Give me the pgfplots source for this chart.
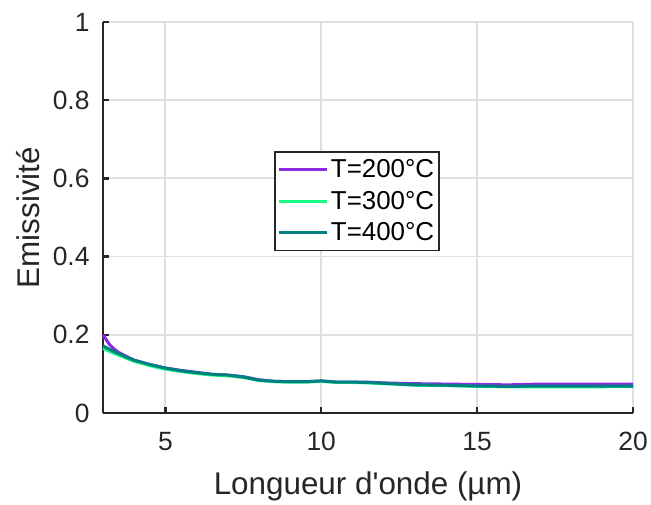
\documentclass[border=0pt]{standalone}
\usepackage{fontspec}
\setmainfont{Liberation Sans}[Ligatures=TeXOff]
\usepackage{pgfplots}
\pgfplotsset{compat=1.18}

\definecolor{c200}{RGB}{138,43,226}
\definecolor{c300}{RGB}{20,250,130}
\definecolor{c400}{RGB}{0,128,128}
\definecolor{axgray}{RGB}{38,38,38}

\begin{document}
\begin{tikzpicture}
\begin{axis}[
    scale only axis,
    width=530bp, height=391bp,
    xmin=3, xmax=20, ymin=0, ymax=1,
    xtick={5,10,15,20},
    ytick={0,0.2,0.4,0.6,0.8,1},
    axis x line*=bottom, axis y line*=left,
    axis line style={axgray, line width=2.4bp, -},
    tick style={axgray, line width=2.4bp},
    tick align=inside,
    major tick length=6bp,
    grid=major,
    major grid style={gray!25, line width=1.8bp},
    /pgf/number format/assume math mode=true,
    ticklabel style={font=\fontsize{26.5}{30}\selectfont, text=axgray},
    xticklabel style={yshift=-16bp},
    yticklabel style={xshift=-10bp},
    xlabel={Longueur d'onde (µm)},
    ylabel={Emissivité},
    label style={font=\fontsize{31.5}{36}\selectfont, text=axgray},
    xlabel style={yshift=-14bp},
    ylabel style={yshift=6bp},
    legend style={at={(axis cs:11.15,0.542)}, anchor=center,
        draw=axgray, line width=1.6bp, font=\fontsize{26}{30}\selectfont,
        inner xsep=3bp, inner ysep=6bp, row sep=8bp},
    legend cell align=left,
    legend image code/.code={\draw[#1, line width=3bp] (0bp,0bp) -- (48bp,0bp);},
    clip=false,
]
\addplot[c200, line width=3bp] coordinates {
    (3.0,0.200) (3.1,0.188) (3.2,0.176) (3.35,0.164) (3.5,0.155) (3.75,0.145)
    (4.0,0.135) (4.5,0.124) (5.0,0.115) (5.5,0.109) (6.0,0.104) (6.5,0.099)
    (7.0,0.097) (7.5,0.093) (8.0,0.085) (8.5,0.081) (9.0,0.080) (9.5,0.080)
    (10.0,0.082) (10.5,0.079) (11.0,0.079) (11.5,0.079) (12.0,0.077) (12.5,0.076)
    (13.0,0.075) (14.0,0.074) (15.0,0.073) (16.0,0.072) (17.0,0.074) (18.0,0.074)
    (19.0,0.074) (20.0,0.074)
};
\addplot[c300, line width=3bp] coordinates {
    (3.0,0.165) (3.25,0.156) (3.5,0.148) (3.75,0.140) (4.0,0.132) (4.5,0.121)
    (5.0,0.112) (5.5,0.106) (6.0,0.101) (6.5,0.097) (7.0,0.095) (7.5,0.091)
    (8.0,0.083) (8.5,0.080) (9.0,0.079) (9.5,0.079) (10.0,0.081) (10.5,0.078)
    (11.0,0.078) (11.5,0.077) (12.0,0.075) (12.5,0.073) (13.0,0.071) (14.0,0.070)
    (15.0,0.068) (16.0,0.067) (17.0,0.067) (18.0,0.067) (19.0,0.067) (20.0,0.068)
};
\addplot[c400, line width=3bp] coordinates {
    (3.0,0.172) (3.25,0.161) (3.5,0.152) (3.75,0.143) (4.0,0.135) (4.5,0.124)
    (5.0,0.115) (5.5,0.108) (6.0,0.103) (6.5,0.099) (7.0,0.097) (7.5,0.092)
    (8.0,0.084) (8.5,0.081) (9.0,0.080) (9.5,0.080) (10.0,0.082) (10.5,0.079)
    (11.0,0.079) (11.5,0.078) (12.0,0.076) (12.5,0.074) (13.0,0.072) (14.0,0.071)
    (15.0,0.069) (16.0,0.068) (17.0,0.069) (18.0,0.069) (19.0,0.069) (20.0,0.069)
};
\legend{T=200°C, T=300°C, T=400°C}
\coordinate (ll) at (rel axis cs:0,0);
\coordinate (ur) at (rel axis cs:1,1);
\end{axis}
\useasboundingbox ([shift={(-103bp,-87bp)}]ll) rectangle ([shift={(18bp,22bp)}]ur);
\end{tikzpicture}
\end{document}
